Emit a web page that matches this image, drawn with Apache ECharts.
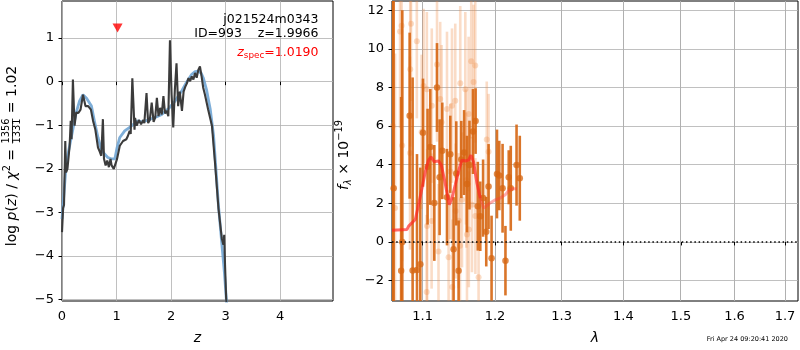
<!DOCTYPE html>
<html><head><meta charset="utf-8">
<script src="https://cdn.jsdelivr.net/npm/echarts@6.0.0/dist/echarts.min.js"></script>
<style>html,body{margin:0;padding:0;background:#fff}#c{width:800px;height:350px}</style>
</head><body><div id="c"></div>
<script>
// ---------- left panel: log p(z) ----------
const pzDarkZ = [0.0,0.02,0.037,0.06,0.075,0.10,0.14,0.16,0.175,0.2,0.23,0.26,0.30,0.34,0.385,0.43,0.48,0.53,0.57,0.61,0.66,0.69,0.72,0.75,0.77,0.80,0.83,0.86,0.89,0.91,0.95,0.98,1.01,1.06,1.12,1.18,1.21,1.24,1.26,1.29,1.31,1.33,1.34,1.37,1.41,1.45,1.49,1.51,1.55,1.58,1.61,1.645,1.68,1.71,1.74,1.77,1.80,1.83,1.86,1.89,1.92,1.95,1.98,2.01,2.04,2.07,2.10,2.13,2.16,2.20,2.23,2.26,2.29,2.32,2.35,2.38,2.41,2.44,2.47,2.50,2.53,2.56,2.59,2.62,2.68,2.75,2.81,2.87,2.93,2.96,2.975,2.99,3.01,3.03];
const pzDarkV = [-3.45,-2.9,-2.83,-1.36,-2.08,-2.0,-1.47,-0.9,-1.32,0.05,-1.01,-0.71,-0.72,-0.64,-0.3,-0.56,-0.56,-0.64,-0.9,-1.09,-1.51,-1.6,-1.7,-0.86,-1.77,-1.92,-1.81,-1.96,-1.77,-1.92,-2.0,-2.04,-1.77,-1.47,-1.36,-1.32,-1.24,-1.13,-1.2,0.08,-0.5,-1.1,-0.83,-1.01,-0.88,-0.98,-0.88,-0.95,-0.26,-0.95,-0.88,-0.48,-0.92,-0.82,-0.37,-0.79,-0.6,-0.75,-0.33,-0.73,-0.67,-0.79,0.95,-0.3,-1.05,-0.18,0.42,-0.56,-0.23,-0.67,-0.23,-0.12,-0.04,0.08,0.01,0.12,0.05,0.2,0.09,0.27,0.35,0.12,-0.14,-0.29,-0.64,-1.01,-1.92,-2.91,-3.59,-3.74,-3.51,-4.2,-4.95,-5.4];
const pzBlueZ = [0,0.04,0.08,0.17,0.26,0.32,0.385,0.45,0.54,0.6,0.66,0.72,0.78,0.84,0.90,0.97,1.01,1.06,1.15,1.24,1.31,1.39,1.46,1.58,1.71,1.83,1.96,2.07,2.20,2.29,2.38,2.44,2.50,2.55,2.59,2.65,2.72,2.78,2.82,2.87,2.93,2.98,3.02,3.04];
const pzBlueV = [-3.15,-2.5,-1.85,-1.28,-0.71,-0.45,-0.3,-0.38,-0.56,-0.94,-1.28,-1.55,-1.66,-1.74,-1.77,-1.77,-1.51,-1.28,-1.13,-1.05,-0.98,-0.9,-0.92,-0.88,-0.82,-0.75,-0.61,-0.45,-0.2,0.0,0.17,0.23,0.24,0.2,0.09,-0.18,-0.64,-1.24,-1.95,-2.85,-3.7,-4.4,-5.1,-5.5];
const zSpec = 1.019, zSpecMarkY = 1.23;
const pzXTicks = [0,1,2,3,4];
const pzYTicks = [-5,-4,-3,-2,-1,0,1];

// ---------- right panel: spectrum ----------
const darkLam  = [1.0610,1.0624,1.0720,1.0735,1.0830,1.0869,1.0926,1.0970,1.1005,1.1066,1.1102,1.1156,1.1192,1.1227,1.1263,1.1327,1.1372,1.1417,1.1454,1.1486,1.1523,1.1562,1.1602,1.1637,1.1686,1.1723,1.1754,1.1789,1.1829,1.1874,1.1907,1.1950,1.2028,1.2061,1.2109,1.2151,1.2199,1.2229,1.2314,1.2362];
const darkFlux = [-4.0,2.78,-1.49,0.0,6.54,-1.48,-1.45,-1.15,5.66,3.9,4.92,2.02,8.0,3.35,4.72,2.32,4.54,-0.38,3.55,-1.49,4.27,4.63,3.0,3.98,5.72,6.26,1.85,1.33,2.27,0.53,2.87,-0.84,3.52,3.44,2.78,-0.97,3.35,2.78,3.98,3.3];
const darkErr  = [20,12,9,12,4.3,10,6,5,2.8,3,3,3,2.3,3,2.5,2.5,2,2.7,2.7,2.6,2,2.2,2.5,2.3,2.2,1.7,2.3,1.8,2,1.8,2.2,2.2,2.3,1.8,2.3,1.8,1.4,2.2,2.1,2.2];
const lightLam  = [1.0615,1.0642,1.0706,1.0726,1.0733,1.0835,1.0838,1.0848,1.0924,1.0987,1.1013,1.1056,1.1060,1.1054,1.1122,1.1120,1.1192,1.1212,1.1235,1.1254,1.1327,1.1349,1.1372,1.1395,1.1400,1.1440,1.1445,1.1486,1.1509,1.1505,1.1533,1.1579,1.1588,1.1592,1.1602,1.1625,1.1628,1.1662,1.1672,1.1694,1.1718,1.1720,1.1765,1.1881,1.1907];
const lightFlux = [6.0,1.76,10.9,11.2,5.0,4.6,8.94,11.3,10.4,5.7,8.08,7.91,0.82,-2.6,7.06,1.08,9.19,-0.5,7.4,6.2,6.89,-0.8,3.65,7.06,-2.34,7.31,1.6,1.1,8.22,-0.2,2.18,7.91,4.4,3.2,0.39,6.63,0.65,9.36,1.93,8.29,9.14,1.34,-1.83,5.31,4.67];
const lightErr  = [10,8,5,5,6,5,4,4,4,4,4,4,4,4,4,3.5,4,3.5,4,4,4,3.5,3.5,4,3.5,4,3.5,3.5,4,3.5,3.5,4,3.5,3.5,3.5,4,3,4,3.5,4,4,3,3,3,3];
const modelLam1  = [1.0603,1.0624,1.0796,1.0817,1.0904,1.0947,1.0992,1.1036,1.1079,1.1111,1.1156,1.1213,1.1250,1.1294,1.1327,1.1358,1.1395,1.1440,1.1496,1.1533,1.1579,1.1625,1.1658,1.1694,1.1742,1.1789];
const modelFlux1 = [0.6,0.62,0.65,0.82,1.16,1.93,2.78,3.64,4.24,4.41,4.15,4.2,3.98,3.21,2.53,1.93,2.27,2.95,3.81,4.24,4.19,4.24,4.49,4.15,3.04,2.27];
const modelLam2  = [1.1789,1.1836,1.1874,1.1931,1.2003,1.2075,1.2148,1.2196,1.2246,1.2320];
const modelFlux2 = [2.27,1.76,1.85,2.02,2.18,2.27,2.44,2.65,2.75,2.75];
const lamTicks = [1.1,1.2,1.3,1.4,1.5,1.6,1.7];
const fluxTicks = [-2,0,2,4,6,8,10,12];
const lamMin = 1.0603, lamMax = 1.7267;

// ---------- build ----------
const FF = 'DejaVu Sans';
const GRIDC = '#b0b0b0';
const minus = v => String(v).replace('-', '\u2212');
const ln = Math.log;
const pzXR = [0, 4.97], pzYR = [-5.03, 1.85];
const spXR = [ln(lamMin), ln(lamMax)], spYR = [-3.06, 12.48];

const chart = echarts.init(document.getElementById('c'), null, {renderer: 'canvas'});

function errSeries(lams, flux, errs, color, width, z) {
  return {
    type: 'custom', xAxisIndex: 1, yAxisIndex: 1, z: z, clip: true, silent: true,
    data: lams.map((l, i) => [ln(l), flux[i], errs[i]]),
    renderItem: function (params, api) {
      const x = api.value(0), y = api.value(1), e = api.value(2);
      const p1 = api.coord([x, y - e]), p2 = api.coord([x, y + e]);
      const cs = params.coordSys;
      const top = cs.y, bot = cs.y + cs.height;
      const y1 = Math.min(Math.max(p1[1], top), bot), y2 = Math.min(Math.max(p2[1], top), bot);
      return {type: 'line', shape: {x1: p1[0], y1: y1, x2: p2[0], y2: y2},
        style: {stroke: color, lineWidth: width}};
    }
  };
}

const axisCommon = {
  axisLine: {show: false},
  axisTick: {show: true, length: 3.5, inside: false, lineStyle: {color: '#000', width: 1}},
  splitLine: {show: true, lineStyle: {color: GRIDC, width: 0.8}},
  axisLabel: {color: '#000', fontFamily: FF, fontSize: 13}
};
function mkAxis(extra, ticks, fmt, margin, split) {
  const a = echarts.util.merge({}, axisCommon, true);
  Object.assign(a, extra);
  a.axisTick = Object.assign({}, axisCommon.axisTick, {customValues: ticks});
  a.axisLabel = Object.assign({}, axisCommon.axisLabel, {customValues: ticks, formatter: fmt, margin: margin});
  a.splitLine = {show: split, lineStyle: {color: GRIDC, width: 0.8}};
  return a;
}

// composite text helper (for math-like labels)
const mctx = document.createElement('canvas').getContext('2d');
function fontStr(p) { return (p.italic ? 'italic ' : '') + p.size + 'px "' + FF + '"'; }
function tw(p) { mctx.font = fontStr(p); return mctx.measureText(p.text).width; }
function composite(pieces, cx, cy, rot, anchor, fill) {
  let total = 0;
  pieces.forEach(p => { p.w = p.frac ? Math.max(tw({text: p.num, size: p.size}), tw({text: p.den, size: p.size})) + 2 : tw(p); total += p.w; });
  let s = anchor === 'center' ? -total / 2 : (anchor === 'right' ? -total : 0);
  const children = [];
  pieces.forEach(p => {
    const col = p.fill || fill || '#000';
    if (p.frac) {
      const cxl = s + p.w / 2;
      children.push({type: 'text', x: cxl, y: -5.5, style: {text: p.num, font: fontStr(p), fill: col, align: 'center', verticalAlign: 'middle', textAlign: 'center', textVerticalAlign: 'middle'}});
      children.push({type: 'text', x: cxl, y: 5.5, style: {text: p.den, font: fontStr(p), fill: col, align: 'center', verticalAlign: 'middle', textAlign: 'center', textVerticalAlign: 'middle'}});
      children.push({type: 'line', shape: {x1: s + 1, y1: 0.5, x2: s + p.w - 1, y2: 0.5}, style: {stroke: col, lineWidth: 0.8}});
    } else {
      children.push({type: 'text', x: s, y: p.dy || 0, style: {text: p.text, font: fontStr(p), fill: col, align: 'left', verticalAlign: 'middle', textAlign: 'left', textVerticalAlign: 'middle'}});
    }
    s += p.w;
  });
  return {type: 'group', x: cx, y: cy, rotation: rot, silent: true, children: children};
}

const option = {
  animation: false,
  backgroundColor: '#fff',
  grid: [
    {left: 62, top: 1, width: 271, height: 303, show: true, borderColor: '#000', borderWidth: 1},
    {left: 392, top: 1, width: 406, height: 303, show: true, borderColor: '#000', borderWidth: 1}
  ],
  xAxis: [
    mkAxis({type: 'value', gridIndex: 0, min: pzXR[0], max: pzXR[1], name: 'z', nameLocation: 'middle', nameGap: 30,
      nameTextStyle: {fontFamily: FF, fontSize: 14, fontStyle: 'italic', color: '#000'}}, pzXTicks, v => minus(v), 9, true),
    mkAxis({type: 'value', gridIndex: 1, min: spXR[0], max: spXR[1], name: '\u03bb', nameLocation: 'middle', nameGap: 30,
      nameTextStyle: {fontFamily: FF, fontSize: 14, fontStyle: 'italic', color: '#000'}}, lamTicks.map(ln), v => Math.exp(v).toFixed(1), 9, false)
  ],
  yAxis: [
    mkAxis({type: 'value', gridIndex: 0, min: pzYR[0], max: pzYR[1]}, pzYTicks, v => minus(v), 8, true),
    mkAxis({type: 'value', gridIndex: 1, min: spYR[0], max: spYR[1]}, fluxTicks, v => minus(v), 8, true)
  ],
  series: [
    {type: 'line', xAxisIndex: 0, yAxisIndex: 0, showSymbol: false, symbol: 'none', clip: true, z: 3,
      data: pzBlueZ.map((z, i) => [z, pzBlueV[i]]), lineStyle: {color: 'rgba(112,165,212,0.9)', width: 2.8}},
    {type: 'line', xAxisIndex: 0, yAxisIndex: 0, showSymbol: false, symbol: 'none', clip: true, z: 4,
      data: pzDarkZ.map((z, i) => [z, pzDarkV[i]]), lineStyle: {color: '#3b3b3b', width: 2.1}},
    {type: 'scatter', xAxisIndex: 0, yAxisIndex: 0, z: 5, symbol: 'triangle', symbolRotate: 180, symbolSize: [10, 9],
      data: [[zSpec, zSpecMarkY]], itemStyle: {color: '#ff0000'}},
    errSeries(lightLam, lightFlux, lightErr, 'rgba(238,140,70,0.3)', 2.6, 3),
    {type: 'scatter', xAxisIndex: 1, yAxisIndex: 1, z: 3, symbolSize: 6, clip: true,
      data: lightLam.map((l, i) => [ln(l), lightFlux[i]]), itemStyle: {color: 'rgba(238,140,70,0.38)'}},
    errSeries(darkLam, darkFlux, darkErr, 'rgba(214,102,18,0.9)', 2.6, 4),
    {type: 'scatter', xAxisIndex: 1, yAxisIndex: 1, z: 4, symbolSize: 6.5, clip: true,
      data: darkLam.map((l, i) => [ln(l), darkFlux[i]]), itemStyle: {color: 'rgba(214,102,18,0.95)'}},
    {type: 'line', xAxisIndex: 1, yAxisIndex: 1, showSymbol: false, symbol: 'none', z: 5, clip: true,
      data: modelLam1.map((l, i) => [ln(l), modelFlux1[i]]), lineStyle: {color: 'rgba(255,35,35,0.68)', width: 3}},
    {type: 'line', xAxisIndex: 1, yAxisIndex: 1, showSymbol: false, symbol: 'none', z: 5, clip: true,
      data: modelLam2.map((l, i) => [ln(l), modelFlux2[i]]), lineStyle: {color: 'rgba(255,60,60,0.42)', width: 3}},
    {type: 'line', xAxisIndex: 1, yAxisIndex: 1, showSymbol: false, symbol: 'none', z: 6,
      data: [[spXR[0], 0], [spXR[1], 0]], lineStyle: {color: '#000', width: 1.5, type: [1.5, 2.7]}}
  ],
  graphic: []
};

const labelGraphics = [
  composite([
    {text: 'log ', size: 14}, {text: 'p', size: 14, italic: true}, {text: '(', size: 14}, {text: 'z', size: 14, italic: true},
    {text: ') / ', size: 14}, {text: '\u03c7', size: 14, italic: true}, {text: '2', size: 9.8, dy: -5},
    {text: ' = ', size: 14}, {frac: true, num: '1356', den: '1331', size: 9.8}, {text: ' = 1.02', size: 14}
  ], 12, 156, Math.PI / 2, 'center'),
  composite([
    {text: 'f', size: 14, italic: true}, {text: '\u03bb', size: 9.8, italic: true, dy: 3.5},
    {text: ' \u00d7 10', size: 14}, {text: '\u221219', size: 9.8, dy: -5.5}
  ], 344.5, 155, Math.PI / 2, 'center'),
  {type: 'text', x: 318.5, y: 20, silent: true, z: 10, style: {text: 'j021524m0343', font: '12.5px "' + FF + '"', fill: '#000', align: 'right', verticalAlign: 'middle', textAlign: 'right', textVerticalAlign: 'middle'}},
  {type: 'text', x: 318.5, y: 34, silent: true, z: 10, style: {text: 'ID=993    z=1.9966', font: '12.5px "' + FF + '"', fill: '#000', align: 'right', verticalAlign: 'middle', textAlign: 'right', textVerticalAlign: 'middle'}},
  composite([
    {text: 'z', size: 12.5, italic: true}, {text: 'spec', size: 8.8, dy: 3}, {text: '=1.0190', size: 12.5}
  ], 318.5, 53, 0, 'right', '#ff0000'),
  {type: 'text', x: 788, y: 339, silent: true, style: {text: 'Fri Apr 24 09:20:41 2020', font: '6.5px "' + FF + '"', fill: '#000', align: 'right', verticalAlign: 'middle', textAlign: 'right', textVerticalAlign: 'middle'}}
];
option.graphic = labelGraphics;
chart.setOption(option);

// vertical grid lines of the log-wavelength axis, positioned through the axis scale
const gridGraphics = [];
const snap = v => Math.floor(v) + 0.5;
lamTicks.forEach(l => {
  const a = chart.convertToPixel({gridIndex: 1}, [ln(l), spYR[0]]);
  const b = chart.convertToPixel({gridIndex: 1}, [ln(l), spYR[1]]);
  gridGraphics.push({type: 'line', silent: true, z: 0, shape: {x1: snap(a[0]), y1: a[1], x2: snap(a[0]), y2: b[1]},
    style: {stroke: GRIDC, lineWidth: 1}});
});
chart.setOption({graphic: labelGraphics.concat(gridGraphics)});
</script>
</body></html>
